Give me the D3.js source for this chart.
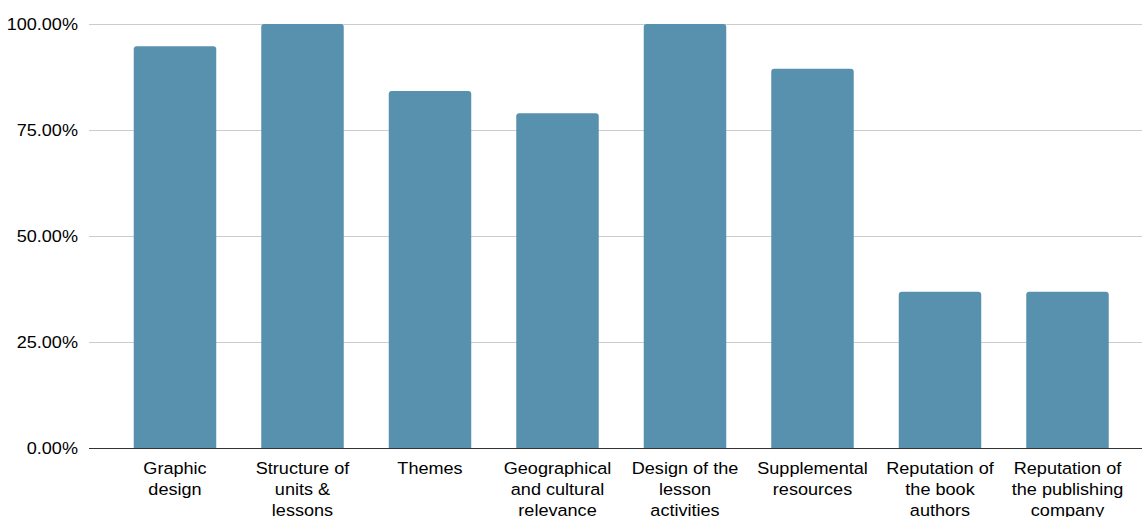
<!DOCTYPE html>
<html>
<head>
<meta charset="utf-8">
<script src="https://cdn.jsdelivr.net/npm/d3@7"></script>
<style>
  body { margin: 0; background: #fff; }
  svg { display: block; font-family: "Liberation Sans", Arial, sans-serif; }
</style>
</head>
<body>
<div id="chart-wrapper"></div>
<script>
// categories (already wrapped into lines) and values
const categories = [
  ["Graphic", "design"],
  ["Structure of", "units &", "lessons"],
  ["Themes"],
  ["Geographical", "and cultural", "relevance"],
  ["Design of the", "lesson", "activities"],
  ["Supplemental", "resources"],
  ["Reputation of", "the book", "authors"],
  ["Reputation of", "the publishing", "company"]
];
const values = [0.9474, 1.0, 0.8421, 0.7895, 1.0, 0.8947, 0.3684, 0.3684];
const yTicks = [0, 0.25, 0.5, 0.75, 1];

const data = categories.map((c, i) => ({ key: i, lines: c, value: values[i] }));

// text in the reference is a little wider than plain Arial
const stretch = 1.11;
const fontSize = "16.3px";

// dimensions
let dimensions = {
  width: 1142,
  height: 517,
  margin: { top: 24, right: 0, bottom: 69, left: 89 }
};
dimensions.boundedWidth = dimensions.width - dimensions.margin.left - dimensions.margin.right;
dimensions.boundedHeight = dimensions.height - dimensions.margin.top - dimensions.margin.bottom;

const wrapper = d3.select("#chart-wrapper")
  .append("svg")
  .attr("width", dimensions.width)
  .attr("height", dimensions.height);

const bounds = wrapper.append("g")
  .attr("transform", `translate(${dimensions.margin.left},${dimensions.margin.top})`);

// scales
const yScale = d3.scaleLinear()
  .domain([0, 1])
  .range([dimensions.boundedHeight, 0]);

const xScale = d3.scaleBand()
  .domain(data.map(d => d.key))
  .range([22.25, 1042.25])
  .paddingInner(0.353)
  .paddingOuter(0.1765);

// gridlines + y labels
const yAxisGenerator = d3.axisLeft(yScale)
  .tickValues(yTicks)
  .tickSize(-dimensions.boundedWidth)
  .tickFormat(d3.format(".2%"))
  .tickPadding(11);

const yAxis = bounds.append("g").call(yAxisGenerator);
yAxis.select(".domain").remove();
yAxis.selectAll(".tick line")
  .attr("stroke", "#cccccc")
  .attr("stroke-width", 1);
yAxis.selectAll(".tick text")
  .attr("fill", "#000")
  .attr("x", -11 / stretch)
  .attr("transform", `scale(${stretch},1)`)
  .style("font-size", fontSize);

// bars with rounded top corners
const r = 3;
function barPath(d) {
  const x = xScale(d.key), w = xScale.bandwidth();
  const y0 = yScale(0), y1 = yScale(d.value);
  return `M${x},${y0}V${y1 + r}Q${x},${y1} ${x + r},${y1}H${x + w - r}Q${x + w},${y1} ${x + w},${y1 + r}V${y0}Z`;
}

bounds.append("g")
  .selectAll("path")
  .data(data)
  .join("path")
  .attr("d", barPath)
  .attr("fill", "#5891ae");

// baseline
bounds.append("line")
  .attr("x1", 0)
  .attr("x2", dimensions.boundedWidth)
  .attr("y1", yScale(0) + 0.5)
  .attr("y2", yScale(0) + 0.5)
  .attr("stroke", "#333")
  .attr("stroke-width", 1);

// x labels
const labels = bounds.append("g")
  .selectAll("text")
  .data(data)
  .join("text")
  .attr("text-anchor", "middle")
  .attr("transform", d =>
    `translate(${xScale(d.key) + xScale.bandwidth() / 2},${dimensions.boundedHeight + 26}) scale(${stretch},1)`)
  .style("font-size", fontSize)
  .attr("fill", "#000");

labels.selectAll("tspan")
  .data(d => d.lines)
  .join("tspan")
  .attr("x", 0)
  .attr("dy", (t, i) => i === 0 ? 0 : 21)
  .text(t => t);
</script>
</body>
</html>
